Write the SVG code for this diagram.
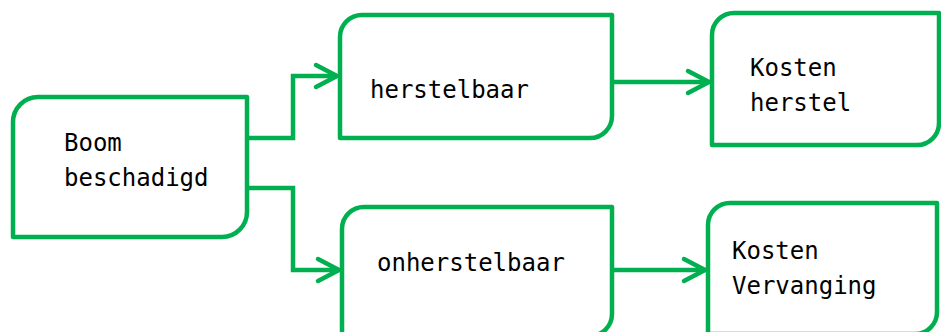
<svg xmlns="http://www.w3.org/2000/svg" width="941" height="332" viewBox="0 0 941 332">
<style>
.box{fill:#fff;stroke:#00B050;stroke-width:4.5;stroke-linejoin:round}
.con{fill:none;stroke:#00B050;stroke-width:4.5;stroke-linejoin:miter}
.t{font-family:"DejaVu Sans Mono","Liberation Mono",monospace;font-size:24px;fill:#000}
</style>
<defs>
<marker id="ah" markerUnits="userSpaceOnUse" viewBox="-26 -15 30 30" refX="0" refY="0" markerWidth="30" markerHeight="30" orient="auto">
<path d="M-21,-11 L0,0 L-21,11" fill="none" stroke="#00B050" stroke-width="4.5" stroke-linecap="round" stroke-linejoin="round"/>
</marker>
</defs>
<rect width="941" height="332" fill="#fff"/>
<g id="connectors">
<path class="con" d="M247,138 H293 V76 H337" marker-end="url(#ah)"/>
<path class="con" d="M247,188 H293 V270 H339" marker-end="url(#ah)"/>
<path class="con" d="M612,82 H709" marker-end="url(#ah)"/>
<path class="con" d="M612,270 H705" marker-end="url(#ah)"/>
</g>
<g id="boom">
<path class="box" d="M13,122 A25,25 0 0 1 38,97 H247 V212 A25,25 0 0 1 222,237 H13 Z"/>
<text class="t" x="64" y="151">Boom</text>
<text class="t" x="64" y="186">beschadigd</text>
</g>
<g id="herstelbaar">
<path class="box" d="M340,37 A22,22 0 0 1 362,15 H612 V116 A22,22 0 0 1 590,138 H340 Z"/>
<text class="t" x="370" y="98">herstelbaar</text>
</g>
<g id="kosten-herstel">
<path class="box" d="M712,35 A22,22 0 0 1 734,13 H939 V123 A22,22 0 0 1 917,145 H712 Z"/>
<text class="t" x="750" y="76">Kosten</text>
<text class="t" x="750" y="111">herstel</text>
</g>
<g id="onherstelbaar">
<path class="box" d="M342,229 A22,22 0 0 1 364,207 H612 V314 A22,22 0 0 1 590,336 H342 Z"/>
<text class="t" x="377" y="271">onherstelbaar</text>
</g>
<g id="kosten-vervanging">
<path class="box" d="M708,225 A22,22 0 0 1 730,203 H937 V312 A22,22 0 0 1 915,334 H708 Z"/>
<text class="t" x="732" y="259">Kosten</text>
<text class="t" x="732" y="294">Vervanging</text>
</g>
</svg>
